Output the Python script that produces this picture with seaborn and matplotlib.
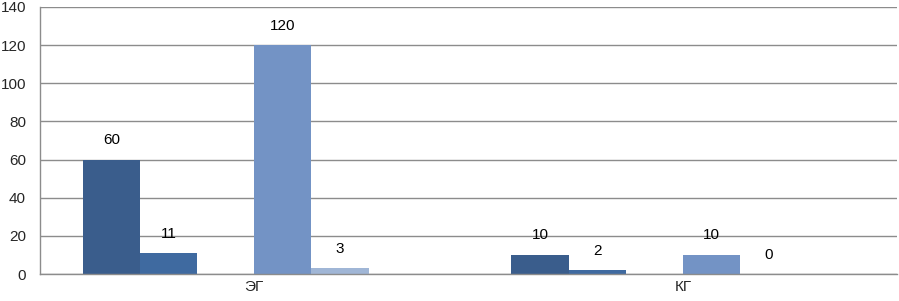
import numpy as np
import pandas as pd
import matplotlib
matplotlib.use("Agg")
import matplotlib.pyplot as plt
import seaborn as sns

groups = ["ЭГ", "КГ"]
series = ["s1", "s2", "s3", "s4", "s5", "s6"]
# empty slots (s3, s6) have no value
s1 = [60, 10]
s2 = [11, 2]
s3 = [np.nan, np.nan]
s4 = [120, 10]
s5 = [3, 0]
s6 = [np.nan, np.nan]
colors = ["#3a5d8c", "#3f6aa0", "#7393c5", "#7393c5", "#a0b6d6", "#a0b6d6"]

rows = []
for name, vals in zip(series, [s1, s2, s3, s4, s5, s6]):
    for g, v in zip(groups, vals):
        rows.append({"group": g, "series": name, "value": v})
df = pd.DataFrame(rows)

sns.set_style("white")
plt.rcParams["font.family"] = ["Liberation Sans", "DejaVu Sans"]

fig = plt.figure(figsize=(8.99, 3.01), dpi=100)
ax = fig.add_axes([0.0445, 0.0897, 0.9535, 0.8873])

sns.barplot(data=df, x="group", y="value", hue="series", order=groups,
            hue_order=series, palette=colors, width=0.8, saturation=1,
            linewidth=0, legend=False, ax=ax)

for c in ax.containers:
    for bar in c:
        h = bar.get_height()
        if np.isnan(h):
            continue
        ax.annotate(f"{h:g}", (bar.get_x() + bar.get_width() / 2, h),
                    xytext=(0, 14), textcoords="offset points",
                    ha="center", va="center", fontsize=11, color="black")

ax.set_ylim(0, 140)
ax.set_xlim(-0.5, 1.5)
ax.set_yticks(range(0, 141, 20))
ax.yaxis.grid(True, color="#8c8c8c", linewidth=1)
ax.set_axisbelow(True)
ax.set_xlabel("")
ax.set_ylabel("")

for s in ["top", "right"]:
    ax.spines[s].set_visible(False)
for s in ["left", "bottom"]:
    ax.spines[s].set_color("#8c8c8c")
    ax.spines[s].set_linewidth(1)

ax.set_xticks([-0.5, 0.5, 1.5], minor=True)
ax.tick_params(axis="x", which="major", length=0, pad=4, labelsize=11)
ax.tick_params(axis="x", which="minor", length=4, color="#8c8c8c")
ax.tick_params(axis="y", length=3, color="#8c8c8c", pad=7, labelsize=11)

fig.savefig("out.png", dpi=100)
